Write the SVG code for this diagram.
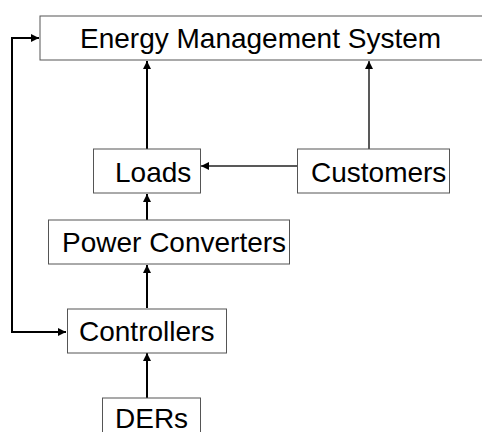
<svg xmlns="http://www.w3.org/2000/svg" width="482" height="432" viewBox="0 0 482 432">
<style>
.box{fill:#fff;stroke:#555;stroke-width:1}
.t{font-family:"Liberation Sans",Arial,sans-serif;font-size:28px;fill:#000}
.c{fill:none;stroke:#000;stroke-width:2}
.c2{fill:none;stroke:#222;stroke-width:1.5}
</style>
<defs>
<marker id="ah" markerWidth="10" markerHeight="10" refX="9" refY="5" orient="auto" markerUnits="userSpaceOnUse">
<path d="M1,1 L9,5 L1,9 Z" fill="#000"/>
</marker>
</defs>
<rect width="482" height="432" fill="#fff"/>
<g id="connectors">
<path class="c" d="M147,149 V61" marker-end="url(#ah)"/>
<path class="c2" d="M369,149 V61" marker-end="url(#ah)"/>
<path class="c2" d="M298,166 H201" marker-end="url(#ah)"/>
<path class="c" d="M147,220 V194" marker-end="url(#ah)"/>
<path class="c" d="M147,308 V265" marker-end="url(#ah)"/>
<path class="c" d="M147,398 V353" marker-end="url(#ah)"/>
<path class="c" d="M39,38 H12 V332 H66" marker-end="url(#ah)"/>
<path class="c" d="M12,38 H39" marker-end="url(#ah)"/>
</g>
<g id="ems">
<rect class="box" x="40" y="16" width="450" height="44"/>
<text class="t" x="80" y="48">Energy Management System</text>
</g>
<g id="loads">
<rect class="box" x="93.5" y="149" width="107" height="44"/>
<text class="t" x="115" y="182">Loads</text>
</g>
<g id="customers">
<rect class="box" x="297.5" y="149" width="152" height="44"/>
<text class="t" x="311" y="182">Customers</text>
</g>
<g id="power-converters">
<rect class="box" x="48.5" y="220" width="241" height="44"/>
<text class="t" x="62" y="252">Power Converters</text>
</g>
<g id="controllers">
<rect class="box" x="67.5" y="309" width="159" height="44"/>
<text class="t" x="79" y="341">Controllers</text>
</g>
<g id="ders">
<rect class="box" x="102.5" y="398" width="98" height="44"/>
<text class="t" x="115" y="428">DERs</text>
</g>
</svg>
